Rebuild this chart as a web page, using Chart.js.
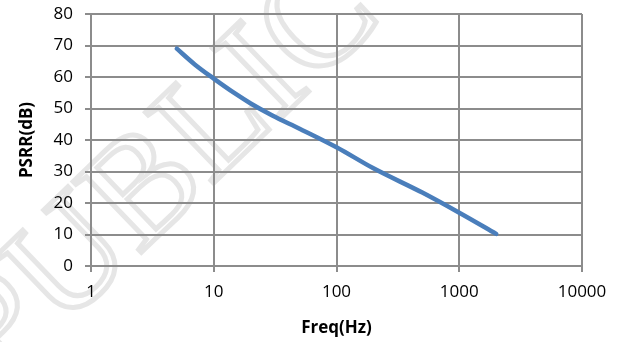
<!DOCTYPE html>
<html>
<head>
<meta charset="utf-8">
<script src="https://cdn.jsdelivr.net/npm/chart.js@4/dist/chart.umd.min.js"></script>
<style>
  html, body { margin: 0; padding: 0; background: #fff; }
  #wrap { width: 619px; height: 342px; position: relative; }
</style>
</head>
<body>
<div id="wrap"><canvas id="c" width="619" height="342"></canvas></div>
<script>
const freqHz = [5, 7, 10, 15, 20, 30, 50, 100, 200, 500, 1000, 2000];
const psrrDb = [69, 64, 59.5, 54.7, 51.6, 47.8, 43.6, 37.7, 31, 23.3, 16.9, 10.2];
const xTicks = [1, 10, 100, 1000, 10000];
const yTicks = [0, 10, 20, 30, 40, 50, 60, 70, 80];
const watermarkText = "PUBLIC";

const gridColor = "#8c8c8c";
const fontFam = "'Open Sans', Lato, sans-serif";

const watermark = {
  id: "watermark",
  beforeDraw(chart) {
    const ctx = chart.ctx;
    ctx.save();
    ctx.translate(165, 175);
    ctx.rotate(-Math.PI / 4.1);
    ctx.font = "150px 'Liberation Serif', serif";
    ctx.strokeStyle = "#e6e6e6";
    ctx.lineWidth = 5;
    ctx.textBaseline = "middle";
    ctx.textAlign = "center";
    ctx.strokeText(watermarkText, 0, 0);
    ctx.restore();
  }
};

new Chart(document.getElementById("c"), {
  type: "line",
  data: {
    datasets: [{
      data: freqHz.map((f, i) => ({ x: f, y: psrrDb[i] })),
      borderColor: "#4a7ebb",
      borderWidth: 4.5,
      pointRadius: 0,
      cubicInterpolationMode: "monotone",
      borderCapStyle: "round",
      fill: false
    }]
  },
  options: {
    responsive: false,
    animation: false,
    devicePixelRatio: 1,
    layout: { padding: { top: 14, right: 37, left: 0, bottom: 0 } },
    plugins: { legend: { display: false }, tooltip: { enabled: false } },
    scales: {
      x: {
        type: "logarithmic",
        min: 1,
        max: 10000,
        afterBuildTicks: (s) => { s.ticks = xTicks.map(v => ({ value: v })); },
        afterFit: (s) => { s.height = 76; s.paddingLeft = 0; s.paddingRight = 0; },
        ticks: {
          callback: (v) => String(v),
          color: "#000",
          font: { family: fontFam, size: 17 },
          padding: 10,
          maxRotation: 0,
          autoSkip: false
        },
        grid: { color: gridColor, lineWidth: 2, tickLength: 6, drawTicks: true },
        border: { color: gridColor, width: 2 },
        title: {
          display: true,
          text: "Freq(Hz)",
          color: "#000",
          font: { family: fontFam, size: 17, weight: "bold" },
          padding: { top: 4, bottom: 4 }
        }
      },
      y: {
        min: 0,
        max: 80,
        afterBuildTicks: (s) => { s.ticks = yTicks.map(v => ({ value: v })); },
        afterFit: (s) => { s.width = 91; s.paddingTop = 0; s.paddingBottom = 0; },
        ticks: {
          color: "#000",
          font: { family: fontFam, size: 17 },
          padding: 12
        },
        grid: { color: gridColor, lineWidth: 2, tickLength: 6, drawTicks: true },
        border: { color: gridColor, width: 2 },
        title: {
          display: true,
          text: "PSRR(dB)",
          color: "#000",
          font: { family: fontFam, size: 17, weight: "bold" },
          padding: { top: 17, bottom: 4 }
        }
      }
    }
  },
  plugins: [watermark]
});
</script>
</body>
</html>
